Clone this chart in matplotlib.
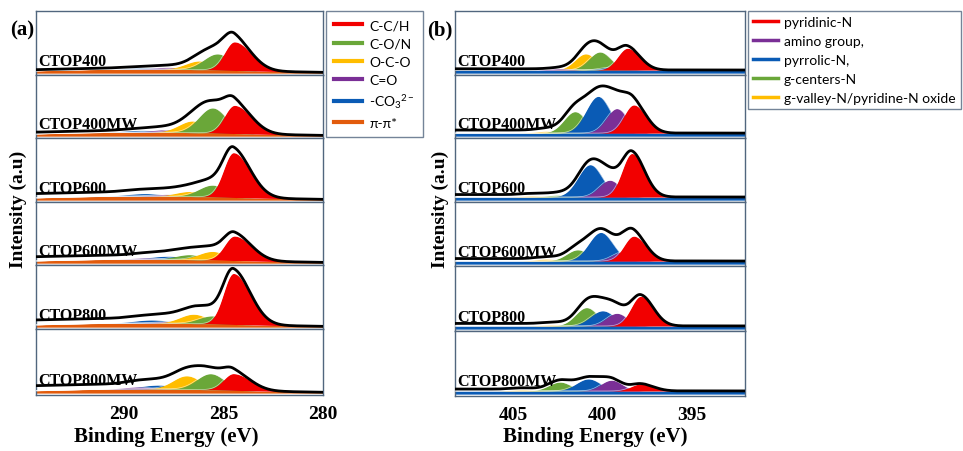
import numpy as np
import matplotlib
matplotlib.use("Agg")
import matplotlib.pyplot as plt
from matplotlib.lines import Line2D

plt.rcParams["mathtext.fontset"] = "custom"
plt.rcParams["mathtext.rm"] = "Lato"
plt.rcParams["mathtext.it"] = "Lato"
plt.rcParams["mathtext.default"] = "regular"

# ---------------- data ----------------
samples = ["CTOP400", "CTOP400MW", "CTOP600", "CTOP600MW", "CTOP800", "CTOP800MW"]

# C 1s (panel a): peak centre (eV) and height (fraction of sub-panel) per sample
c1s_labels = ["C-C/H", "C-O/N", "O-C-O", "C=O", "-CO$_3$$^{2-}$", "π-π*"]
cch_e = [284.45, 284.45, 284.50, 284.45, 284.50, 284.50]
cch_h = [0.46, 0.46, 0.72, 0.40, 0.82, 0.26]
con_e = [285.30, 285.55, 285.55, 286.70, 285.55, 285.65]
con_h = [0.26, 0.41, 0.19, 0.08, 0.13, 0.25]
oco_e = [286.20, 286.55, 286.70, 285.55, 286.50, 286.85]
oco_h = [0.14, 0.19, 0.08, 0.14, 0.15, 0.21]
cdo_e = [287.75, 287.95, 287.75, 288.95, 287.60, 289.30]
cdo_h = [0.03, 0.04, 0.03, 0.02, 0.03, 0.03]
co3_e = [289.00, 289.10, 288.95, 287.75, 288.60, 288.25]
co3_h = [0.02, 0.03, 0.04, 0.05, 0.05, 0.06]
pipi_e = [289.0, 289.0, 289.0, 289.0, 289.0, 289.0]
pipi_h = [0.065, 0.065, 0.065, 0.065, 0.065, 0.065]
c1s_step = [0.02, 0.03, 0.07, 0.07, 0.08, 0.08]

# N 1s (panel b)
n1s_labels = ["pyridinic-N", "amino group,", "pyrrolic-N,", "g-centers-N",
              "g-valley-N/pyridine-N oxide"]
pyd_e = [398.60, 398.25, 398.35, 398.25, 397.85, 397.85]
pyd_h = [0.35, 0.46, 0.70, 0.40, 0.47, 0.11]
ami_e = [402.40, 399.20, 399.60, 398.85, 399.20, 399.50]
ami_h = [0.02, 0.40, 0.27, 0.15, 0.20, 0.17]
pyr_e = [399.40, 400.25, 400.70, 400.10, 400.00, 400.80]
pyr_h = [0.05, 0.60, 0.52, 0.46, 0.24, 0.19]
gcn_e = [400.15, 401.55, 402.50, 401.40, 400.90, 402.40]
gcn_h = [0.29, 0.35, 0.03, 0.18, 0.29, 0.14]
gvl_e = [400.95, 403.15, 403.90, 403.15, 402.80, 404.50]
gvl_h = [0.26, 0.03, 0.02, 0.03, 0.02, 0.02]
n1s_step = [0.02, 0.05, 0.04, 0.04, 0.04, 0.03]
n1s_band = 0.05

# ---------------- style ----------------
RED, GREEN, YEL, PUR, BLU, ORA = "#f20000", "#6aa739", "#ffbd00", "#7a2f96", "#0a5bb5", "#e25b0c"
FRAME = "#51667e"
SERIF = ["Liberation Serif", "DejaVu Serif"]
SANS = ["Lato", "DejaVu Sans"]

W, H = 963, 452
fig = plt.figure(figsize=(W / 100, H / 100), dpi=100)


def gauss(x, e, h, sl, sr=None):
    sr = sl if sr is None else sr
    s = np.where(x > e, sl, sr)
    return h * np.exp(-0.5 * ((x - e) / s) ** 2)


def px_axes(x0, x1, y0, y1):
    return fig.add_axes([x0 / W, 1 - y1 / H, (x1 - x0) / W, (y1 - y0) / H])


def style_ax(ax, xlim, bottom, ticks):
    ax.set_xlim(*xlim)
    ax.set_ylim(-0.03, 1.0)
    ax.set_yticks([])
    for s in ax.spines.values():
        s.set_color(FRAME)
        s.set_linewidth(1.0)
    if bottom:
        ax.set_xticks(ticks)
        ax.set_xticklabels([str(t) for t in ticks], fontfamily=SERIF,
                           fontweight="bold", fontsize=14)
        ax.tick_params(axis="x", length=0, pad=7)
    else:
        ax.set_xticks([])


# ---- panel (a) ----
a_bounds = [12, 76, 139, 203, 266, 330, 396]
xa = np.linspace(280, 294.6, 900)
for i, name in enumerate(samples):
    ax = px_axes(36, 323, a_bounds[i], a_bounds[i + 1])
    base = gauss(xa, pipi_e[i], pipi_h[i], 5.0)
    comps = [
        (gauss(xa, co3_e[i], co3_h[i], 0.9), BLU),
        (gauss(xa, cdo_e[i], cdo_h[i], 0.7), PUR),
        (gauss(xa, oco_e[i], oco_h[i], 0.7), YEL),
        (gauss(xa, con_e[i], con_h[i], 0.7), GREEN),
        (gauss(xa, cch_e[i], cch_h[i], 0.5, 0.85), RED),
    ]
    if name == "CTOP600MW":
        comps[2], comps[3] = comps[3], comps[2]
    ax.fill_between(xa, 0, base, color=ORA, lw=0, zorder=1)
    total = np.zeros_like(xa)
    for k, (p, c) in enumerate(comps):
        ax.fill_between(xa, base, base + p, color=c, lw=0, zorder=2 + k)
        ax.plot(xa, base + p, color="white", lw=0.5, alpha=0.6, zorder=2 + k)
        total += p
    cum = np.cumsum(total)
    shirley = c1s_step[i] * cum / cum[-1]
    ax.plot(xa, base + total + shirley, color="black", lw=2.0, zorder=10)
    ax.text(0.007, 0.1, name, transform=ax.transAxes, fontfamily=SERIF,
            fontweight="bold", fontsize=11.5, va="bottom", ha="left", zorder=11)
    style_ax(ax, (294.44, 280.0), i == 5, [290, 285, 280])

# ---- panel (b) ----
b_bounds = [12, 76, 139, 203, 267, 332, 397]
xb = np.linspace(391.5, 408.6, 900)
for i, name in enumerate(samples):
    ax = px_axes(455, 745, b_bounds[i], b_bounds[i + 1])
    base = np.full_like(xb, n1s_band)
    comps = [
        (gauss(xb, gvl_e[i], gvl_h[i], 0.6), YEL),
        (gauss(xb, gcn_e[i], gcn_h[i], 0.62), GREEN),
        (gauss(xb, pyr_e[i], pyr_h[i], 0.68), BLU),
        (gauss(xb, ami_e[i], ami_h[i], 0.6), PUR),
        (gauss(xb, pyd_e[i], pyd_h[i], 0.55, 0.7), RED),
    ]
    ax.fill_between(xb, 0, base, color=BLU, lw=0, zorder=1)
    total = np.zeros_like(xb)
    for k, (p, c) in enumerate(comps):
        ax.fill_between(xb, base, base + p, color=c, lw=0, zorder=2 + k)
        ax.plot(xb, base + p, color="white", lw=0.5, alpha=0.6, zorder=2 + k)
        total += p
    cum = np.cumsum(total)
    shirley = n1s_step[i] * cum / cum[-1]
    ax.plot(xb, base + total + shirley, color="black", lw=2.0, zorder=10)
    ax.text(0.008, 0.1, name, transform=ax.transAxes, fontfamily=SERIF,
            fontweight="bold", fontsize=11.5, va="bottom", ha="left", zorder=11)
    style_ax(ax, (408.3, 392.0), i == 5, [405, 400, 395])

# ---- labels ----
fig.text(10 / W, 1 - 30 / H, "(a)", fontfamily=SERIF, fontweight="bold",
         fontsize=15, va="center", ha="left")
fig.text(427 / W, 1 - 30 / H, "(b)", fontfamily=SERIF, fontweight="bold",
         fontsize=15, va="center", ha="left")
for xc in (18, 440):
    fig.text(xc / W, 1 - 209 / H, "Intensity (a.u)", fontfamily=SERIF,
             fontweight="bold", fontsize=14, rotation=90, va="center", ha="center")
fig.text(166 / W, 1 - 437 / H, "Binding Energy (eV)", fontfamily=SERIF,
         fontweight="bold", fontsize=15, va="center", ha="center")
fig.text(595 / W, 1 - 437 / H, "Binding Energy (eV)", fontfamily=SERIF,
         fontweight="bold", fontsize=15, va="center", ha="center")

# ---- legends ----
a_cols = [RED, GREEN, YEL, PUR, BLU, ORA]
ha = [Line2D([], [], color=c, lw=3) for c in a_cols]
leg_a = fig.legend(ha, c1s_labels, loc="upper left", bbox_to_anchor=(326 / W, 1 - 12 / H),
                   frameon=True, fancybox=False, edgecolor=FRAME, borderaxespad=0,
                   prop={"family": SANS, "size": 10}, handlelength=2.0,
                   handletextpad=0.5, labelspacing=0.45, borderpad=0.6)
leg_a.get_frame().set_linewidth(1.0)

b_cols = [RED, PUR, BLU, GREEN, YEL]
hb = [Line2D([], [], color=c, lw=2.5) for c in b_cols]
leg_b = fig.legend(hb, n1s_labels, loc="upper left", bbox_to_anchor=(748 / W, 1 - 12 / H),
                   frameon=True, fancybox=False, edgecolor=FRAME, borderaxespad=0,
                   prop={"family": SANS, "size": 10}, handlelength=1.8,
                   handletextpad=0.45, labelspacing=0.5, borderpad=0.35)
leg_b.get_frame().set_linewidth(1.0)

fig.savefig("out.png", dpi=100)
